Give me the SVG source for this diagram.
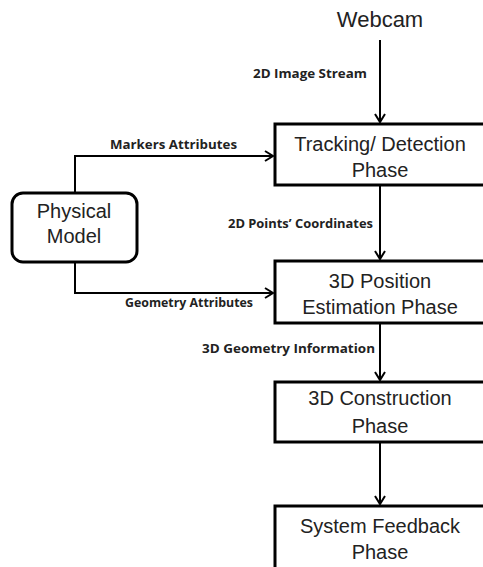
<svg xmlns="http://www.w3.org/2000/svg" width="483" height="567" viewBox="0 0 483 567">
<style>
.box{fill:#fff;stroke:#000;stroke-width:3}
.t{font-family:"Liberation Sans",Arial,sans-serif;font-size:20px;fill:#222;text-anchor:middle}
.l{font-family:"Open Sans","Liberation Sans",Arial,sans-serif;font-size:12px;font-weight:bold;fill:#222}
.c{fill:none;stroke:#000;stroke-width:2}
</style>
<defs>
<marker id="a" markerWidth="12" markerHeight="12" refX="10" refY="6" orient="auto" markerUnits="userSpaceOnUse">
<path d="M2,1 L10,6 L2,11" fill="none" stroke="#000" stroke-width="2"/>
</marker>
</defs>
<rect width="483" height="567" fill="#fff"/>
<g id="connectors">
<line class="c" x1="380" y1="40" x2="380" y2="122" marker-end="url(#a)"/>
<line class="c" x1="380" y1="186" x2="380" y2="259" marker-end="url(#a)"/>
<line class="c" x1="380" y1="324" x2="380" y2="380" marker-end="url(#a)"/>
<line class="c" x1="380" y1="443" x2="380" y2="504" marker-end="url(#a)"/>
<polyline class="c" points="75,193 75,156 273,156" marker-end="url(#a)"/>
<polyline class="c" points="75,262 75,293 273,293" marker-end="url(#a)"/>
<text class="l" x="253" y="78" textLength="114" lengthAdjust="spacingAndGlyphs">2D Image Stream</text>
<text class="l" x="110" y="149" textLength="127" lengthAdjust="spacingAndGlyphs">Markers Attributes</text>
<text class="l" x="228" y="228" textLength="145" lengthAdjust="spacingAndGlyphs">2D Points’ Coordinates</text>
<text class="l" x="125" y="307" textLength="128" lengthAdjust="spacingAndGlyphs">Geometry Attributes</text>
<text class="l" x="202" y="353" textLength="173" lengthAdjust="spacingAndGlyphs">3D Geometry Information</text>
</g>
<g id="webcam"><text class="t" x="380" y="27" style="font-size:22px">Webcam</text></g>
<g id="physical">
<rect class="box" x="12" y="193" width="125" height="69" rx="11"/>
<text class="t" x="74" y="218">Physical</text>
<text class="t" x="74" y="243">Model</text>
</g>
<g id="tracking">
<rect class="box" x="275" y="124" width="212" height="61"/>
<text class="t" x="380" y="151">Tracking/ Detection</text>
<text class="t" x="380" y="177">Phase</text>
</g>
<g id="position">
<rect class="box" x="275" y="261" width="212" height="62"/>
<text class="t" x="380" y="288">3D Position</text>
<text class="t" x="380" y="314">Estimation Phase</text>
</g>
<g id="construction">
<rect class="box" x="275" y="382" width="212" height="60"/>
<text class="t" x="380" y="405">3D Construction</text>
<text class="t" x="380" y="433">Phase</text>
</g>
<g id="feedback">
<rect class="box" x="275" y="506" width="212" height="70"/>
<text class="t" x="380" y="533">System Feedback</text>
<text class="t" x="380" y="559">Phase</text>
</g>
</svg>
